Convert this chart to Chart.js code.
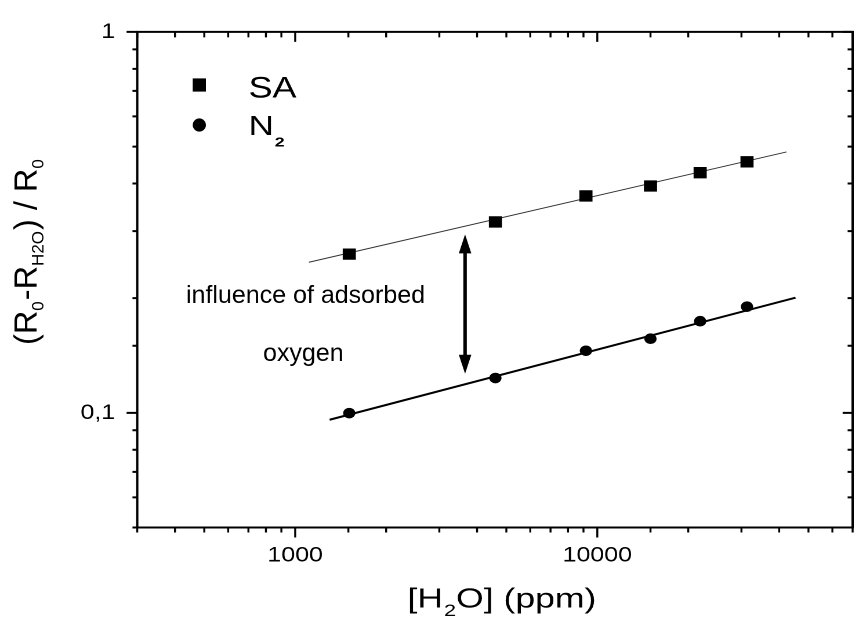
<!DOCTYPE html>
<html><head><meta charset="utf-8">
<script src="https://cdn.jsdelivr.net/npm/chart.js@4/dist/chart.umd.min.js"></script>
<style>
html,body{margin:0;padding:0;overflow:hidden;background:#fff;width:859px;height:617px;}
#wrap{position:absolute;left:0;top:0;width:750px;height:617px;transform:scaleX(1.16);transform-origin:0 0;}
</style></head><body>
<div id="wrap"><canvas id="c"></canvas></div>
<script>
// ---- data ----
const H2O_PPM = [1510, 4600, 9170, 15000, 21900, 31300];
const SA_RATIO = [0.261, 0.317, 0.371, 0.394, 0.427, 0.456];
const N2_RATIO = [0.0998, 0.1234, 0.1455, 0.1565, 0.174, 0.190];
const SA_FIT_PPM = [1110, 42300];
const SA_FIT_RATIO = [0.2485, 0.484];
const N2_FIT_PPM = [1300, 45300];
const N2_FIT_RATIO = [0.0959, 0.2006];
const X_TICK_VALUES = [1000, 10000];
const X_TICK_LABELS = ['1000', '10000'];
const Y_TICK_VALUES = [0.1, 1];
const Y_TICK_LABELS = ['0,1', '1'];
const SERIES_LABELS = [['SA', ''], ['N', '2']];
const ARROW_PPM = 3650;
const ARROW_RATIO = [0.294, 0.1266];
const ANNOTATION = ['influence of adsorbed', 'oxygen'];
const X_TITLE = ['[H', '2', 'O] (ppm)'];
const Y_TITLE = [['(R', 0], ['0', 1], ['-R', 0], ['H2O', 1], [') / R', 0], ['0', 1]];

const SX = 1.16;
const FONT = '"Liberation Sans", Arial, Helvetica, sans-serif';

function labelFor(values, labels, v) {
  const i = values.findIndex(t => Math.abs(t - v) <= t * 1e-6);
  return i < 0 ? '' : labels[i];
}
function pts(xs, ys) { return xs.map((x, i) => ({x: x, y: ys[i]})); }
// text placed in picture pixels, with its own horizontal stretch
function imgText(ctx, str, x, y, size, stretch, weight) {
  ctx.save();
  ctx.scale(1 / SX, 1);
  ctx.translate(x, y);
  ctx.scale(stretch, 1);
  ctx.font = (weight || 'normal') + ' ' + size + 'px ' + FONT;
  ctx.fillText(str, 0, 0);
  const w = ctx.measureText(str).width * stretch;
  ctx.restore();
  return w;
}

const framePlugin = {
  id: 'frame',
  afterDatasetsDraw(chart) {
    const ctx = chart.ctx, a = chart.chartArea, xs = chart.scales.x, ys = chart.scales.y;
    ctx.save();
    ctx.strokeStyle = '#000';
    ctx.lineWidth = 2;
    ctx.beginPath();
    ctx.moveTo(a.left, a.bottom); ctx.lineTo(a.left, a.top); ctx.lineTo(a.right, a.top);
    ctx.lineTo(a.right, a.bottom); ctx.closePath(); ctx.stroke();
    ctx.lineWidth = 1.7;
    xs.ticks.forEach(t => {
      const px = xs.getPixelForValue(t.value);
      const major = labelFor(X_TICK_VALUES, X_TICK_LABELS, t.value) !== '';
      ctx.beginPath();
      ctx.moveTo(px, a.bottom); ctx.lineTo(px, a.bottom + (major ? 10 : 5));
      ctx.moveTo(px, a.top); ctx.lineTo(px, a.top + (major ? 10 : 5.5));
      ctx.stroke();
    });
    ctx.lineWidth = 2;
    ys.ticks.forEach(t => {
      const py = ys.getPixelForValue(t.value);
      const major = labelFor(Y_TICK_VALUES, Y_TICK_LABELS, t.value) !== '';
      ctx.beginPath();
      ctx.moveTo(a.left, py); ctx.lineTo(a.left - (major ? 9.2 : 4.1), py);
      ctx.moveTo(a.right, py); ctx.lineTo(a.right - (major ? 8.6 : 4.3), py);
      ctx.stroke();
    });
    // double arrow
    const ax = xs.getPixelForValue(ARROW_PPM);
    const y1 = ys.getPixelForValue(ARROW_RATIO[0]);
    const y2 = ys.getPixelForValue(ARROW_RATIO[1]);
    ctx.lineWidth = 3;
    ctx.beginPath(); ctx.moveTo(ax, y1 + 12); ctx.lineTo(ax, y2 - 12); ctx.stroke();
    ctx.fillStyle = '#000';
    ctx.beginPath(); ctx.moveTo(ax, y1); ctx.lineTo(ax - 5.4, y1 + 19); ctx.lineTo(ax + 5.4, y1 + 19); ctx.closePath(); ctx.fill();
    ctx.beginPath(); ctx.moveTo(ax, y2); ctx.lineTo(ax - 5.4, y2 - 19); ctx.lineTo(ax + 5.4, y2 - 19); ctx.closePath(); ctx.fill();
    ctx.restore();
  },
  afterDraw(chart) {
    const ctx = chart.ctx;
    ctx.save();
    ctx.fillStyle = '#000';
    ctx.textAlign = 'left';
    ctx.textBaseline = 'alphabetic';
    // legend markers (picture pixels)
    ctx.save();
    ctx.scale(1 / SX, 1);
    ctx.fillRect(199.3 - 6.6, 85 - 6.6, 13.2, 13.2);
    ctx.beginPath(); ctx.arc(199.3, 125, 6.6, 0, Math.PI * 2); ctx.fill();
    ctx.restore();
    // legend text
    imgText(ctx, SERIES_LABELS[0][0], 248.5, 97.3, 30, 1.2);
    const wn = imgText(ctx, SERIES_LABELS[1][0], 248.5, 135, 28, 1.25);
    imgText(ctx, SERIES_LABELS[1][1], 248.5 + wn + 1, 146.7, 13, 1.35, 'bold');
    // annotation
    imgText(ctx, ANNOTATION[0], 186, 303, 25, 1);
    imgText(ctx, ANNOTATION[1], 263, 361, 25, 1);
    // x title
    let x0 = 407.5; const base = 607.3;
    x0 += imgText(ctx, X_TITLE[0], x0, base, 28, 1.27);
    x0 += imgText(ctx, X_TITLE[1], x0 + 1, base + 8.5, 17, 1.27) + 1;
    imgText(ctx, X_TITLE[2], x0, base, 28, 1.27);
    // y title (rotated)
    ctx.save();
    ctx.scale(1 / SX, 1);
    ctx.translate(36.7, 345);
    ctx.rotate(-Math.PI / 2);
    let p = 0;
    Y_TITLE.forEach(q => {
      ctx.font = (q[1] ? 17 : 32.5) + 'px ' + FONT;
      ctx.fillText(q[0], p, q[1] ? 6.6 : 0);
      p += ctx.measureText(q[0]).width + (q[1] ? 1 : 0);
    });
    ctx.restore();
    ctx.restore();
  }
};

const tickFont = {family: FONT, size: 21.5};
new Chart(document.getElementById('c'), {
  type: 'scatter',
  data: {
    datasets: [
      {label: 'SA', data: pts(H2O_PPM, SA_RATIO), pointStyle: 'rect', pointRadius: 8, backgroundColor: '#000', borderColor: '#000', borderWidth: 0},
      {label: 'N2', data: pts(H2O_PPM, N2_RATIO), pointStyle: 'circle', pointRadius: 5.3, backgroundColor: '#000', borderColor: '#000', borderWidth: 0},
      {type: 'line', label: 'SA fit', data: pts(SA_FIT_PPM, SA_FIT_RATIO), borderColor: '#333', borderWidth: 1, pointRadius: 0, showLine: true, fill: false},
      {type: 'line', label: 'N2 fit', data: pts(N2_FIT_PPM, N2_FIT_RATIO), borderColor: '#000', borderWidth: 2, pointRadius: 0, showLine: true, fill: false}
    ]
  },
  options: {
    responsive: true,
    maintainAspectRatio: false,
    devicePixelRatio: 2,
    animation: false,
    layout: {padding: {top: 26, right: 2.3, left: 0, bottom: 0}},
    plugins: {legend: {display: false}, tooltip: {enabled: false}},
    scales: {
      x: {
        type: 'logarithmic', position: 'bottom', min: 300, max: 70000,
        grid: {display: false, drawTicks: false}, border: {display: false},
        ticks: {autoSkip: false, maxRotation: 0, padding: 15, font: tickFont, color: '#000',
          callback: (v) => labelFor(X_TICK_VALUES, X_TICK_LABELS, v)},
        afterFit: (s) => { s.height = 89.5; }
      },
      y: {
        type: 'logarithmic', position: 'left', min: 0.05, max: 1,
        grid: {display: false, drawTicks: false}, border: {display: false},
        ticks: {autoSkip: false, padding: 19, font: tickFont, color: '#000',
          callback: (v) => labelFor(Y_TICK_VALUES, Y_TICK_LABELS, v)},
        afterFit: (s) => { s.width = 118.3; }
      }
    }
  },
  plugins: [framePlugin]
});
</script>
</body></html>
